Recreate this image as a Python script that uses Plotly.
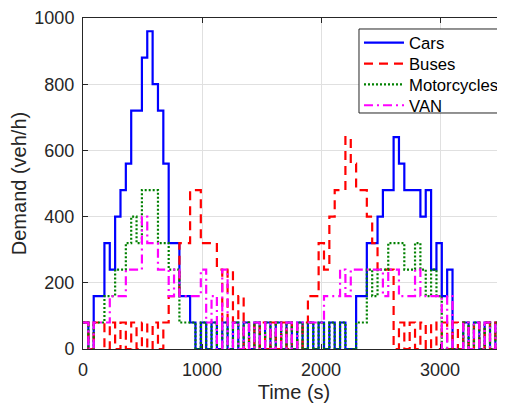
import plotly.graph_objects as go

STEP = 45  # seconds per step
time_s = [STEP * k for k in range(80)] + [3600]

cars = ([80, 0, 160, 160, 320, 240, 400, 480, 560, 720, 720, 880, 960, 800, 720, 560, 320, 320, 160, 160, 80]
        + [0, 80] * 14 + [0, 0]
        + [160, 160, 320, 320, 400, 480, 480, 640, 560, 480, 480, 480, 400, 480, 240, 320, 160, 240]
        + [0, 0, 80, 0, 80, 0, 80, 0, 80, 0, 80])

buses = ([80, 0, 80, 80, 0, 80, 0, 80, 0, 80, 0, 80, 0, 80, 0, 80]
         + [160, 160, 320, 320, 480, 480, 320, 320, 320]
         + [240, 80, 240, 80, 160]
         + [0, 80] * 6
         + [160, 160, 320, 240, 400, 480, 480, 640, 560, 480, 480, 400, 320, 240, 240, 240, 0]
         + [80, 0] * 10 + [80])

motorcycles = ([80, 0, 80, 80, 160, 160, 240, 240, 320, 400, 320, 480, 480, 480, 320, 320, 240, 240, 80, 80, 80]
               + [0, 80] * 14 + [0, 0]
               + [80, 80, 240, 160, 240, 240, 320, 320, 320, 240, 240, 320, 240, 160, 240, 160, 0, 0]
               + [0, 0, 80, 0, 80, 0, 80, 0, 80, 0, 80])

van = ([80, 0, 80, 80, 80, 160, 160, 160, 240, 240, 240, 400, 320, 320, 240, 240, 160, 240, 160, 160, 160, 160]
       + [240, 80, 160, 0, 240, 0, 80, 0]
       + [80, 0] * 5 + [80]
       + [80, 80, 80, 80]
       + [160, 160, 160, 240, 160, 240, 240, 240, 240, 240, 240, 160, 240, 240, 160, 160, 160, 240, 160, 160, 160, 160, 0, 160]
       + [0, 0, 80, 0, 80, 0, 80, 0, 80, 0, 80])

series = [
    ("Cars", cars, "#0000FF", "solid", "legend"),
    ("Buses", buses, "#FF0000", "9px,6px", "legend2"),
    ("Motorcycles", motorcycles, "#008000", "2px,2px", "legend3"),
    ("VAN", van, "#FF00FF", "9px,4px,2px,4px", "legend4"),
]

fig = go.Figure()
for name, vals, color, dash, leg in series:
    y = list(vals) + [vals[-1]]
    fig.add_trace(go.Scatter(x=time_s, y=y, mode="lines", name=name, legend=leg,
                             line=dict(color=color, width=2.2, dash=dash, shape="hv")))

axis_col = "#262626"
leg_font = dict(size=16.7, color="#000000", family="Liberation Sans, Arial, sans-serif")
entry_y = [0.925, 0.862, 0.799, 0.736]
legends = {}
for i, key in enumerate(["legend", "legend2", "legend3", "legend4"]):
    legends[key] = dict(x=0.654, y=entry_y[i], xanchor="left", yanchor="middle",
                        bgcolor="rgba(0,0,0,0)", borderwidth=0, font=leg_font,
                        itemwidth=40)

fig.update_layout(
    width=497, height=395,
    margin=dict(l=75, r=0, t=10, b=54, autoexpand=False),
    paper_bgcolor="white", plot_bgcolor="white",
    font=dict(family="Liberation Sans, Arial, sans-serif", color=axis_col, size=18),
    showlegend=True,
    shapes=[dict(type="rect", xref="paper", yref="paper", x0=0.654, x1=0.9905,
                 y0=0.713, y1=0.9668, fillcolor="white",
                 line=dict(color=axis_col, width=1), layer="above")],
    **legends,
)
fig.update_xaxes(range=[0, 3546], tickvals=[0, 1000, 2000, 3000],
                 showgrid=True, gridcolor="#e0e0e0", gridwidth=1,
                 showline=True, linecolor=axis_col, linewidth=1, mirror="ticks",
                 ticks="inside", ticklen=5, tickcolor=axis_col,
                 zeroline=False, ticklabelstandoff=4, automargin=False,
                 title=dict(text="Time (s)", font=dict(size=20), standoff=6))
fig.update_yaxes(range=[0, 1000], tickvals=[0, 200, 400, 600, 800, 1000],
                 showgrid=True, gridcolor="#e0e0e0", gridwidth=1,
                 showline=True, linecolor=axis_col, linewidth=1,
                 ticks="inside", ticklen=5, tickcolor=axis_col,
                 zeroline=False, ticklabelstandoff=4, automargin=False,
                 title=dict(text="Demand (veh/h)", font=dict(size=20), standoff=5))
fig.write_html("out.html")
